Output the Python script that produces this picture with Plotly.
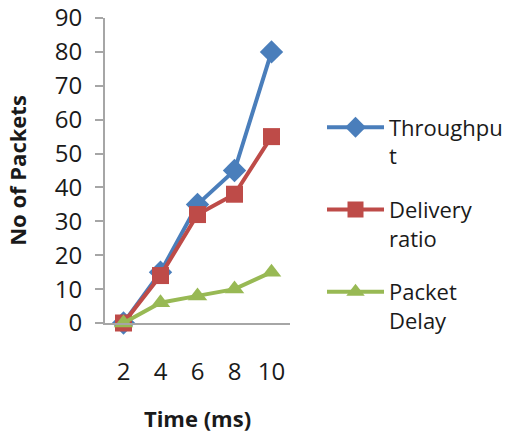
import plotly.graph_objects as go

# Packet statistics over time
time_ms = ["2", "4", "6", "8", "10"]
throughput = [0, 15, 35, 45, 80]
delivery_ratio = [0, 14, 32, 38, 55]
packet_delay = [0, 6, 8, 10, 15]

series_names = ["Throughpu<br>t", "Delivery<br>ratio", "Packet<br>Delay"]
series_values = [throughput, delivery_ratio, packet_delay]
series_colors = ["#4A7EBB", "#BE4B48", "#98B954"]
series_symbols = ["diamond", "square", "triangle-up"]
series_sizes = [18, 17, 17]

FONT = "Open Sans, sans-serif"

fig = go.Figure()
for i, (name, vals, color, sym, size) in enumerate(zip(
        series_names, series_values, series_colors, series_symbols, series_sizes)):
    fig.add_trace(go.Scatter(
        x=time_ms, y=vals, name=name, mode="lines+markers",
        legendgroup=f"g{i}",
        line=dict(color=color, width=4),
        marker=dict(symbol=sym, size=size, color=color),
        cliponaxis=False,
    ))

fig.update_layout(
    width=506, height=434,
    margin=dict(l=105, r=216, t=18, b=111, autoexpand=False),
    paper_bgcolor="white", plot_bgcolor="white",
    font=dict(family=FONT, size=22, color="#1a1a1a"),
    showlegend=True,
    legend=dict(
        x=1.173, y=0.71, xanchor="left", yanchor="top",
        font=dict(size=22), valign="top",
        tracegroupgap=22, itemwidth=57,
        bgcolor="rgba(0,0,0,0)",
    ),
    xaxis=dict(
        type="category", range=[-0.5, 4.5],
        showline=True, linecolor="#A6A6A6", linewidth=2,
        showgrid=False, zeroline=False, ticks="",
        ticklabelstandoff=26,
        tickfont=dict(size=24),
        automargin=False,
        title=dict(text="<b>Time (ms)</b>", font=dict(size=22), standoff=26),
    ),
    yaxis=dict(
        range=[0, 90], dtick=10,
        showline=True, linecolor="#A6A6A6", linewidth=2,
        showgrid=False, zeroline=False,
        ticks="outside", ticklen=8, tickcolor="#A6A6A6", tickwidth=2,
        ticklabelstandoff=8,
        tickfont=dict(size=24),
        automargin=False,
        title=dict(text="<b>No of Packets</b>", font=dict(size=22), standoff=22),
    ),
)

fig.write_html("out.html")
